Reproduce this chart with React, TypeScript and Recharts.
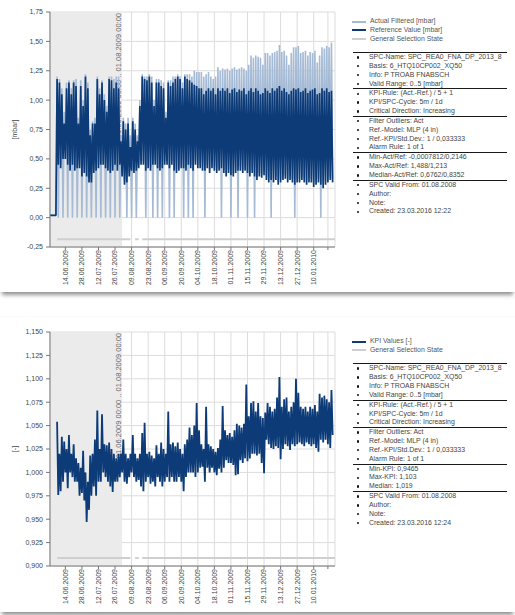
import {
  CartesianGrid,
  Legend,
  Line,
  LineChart,
  ReferenceArea,
  XAxis,
  YAxis,
} from "recharts";

const FONT = "'Liberation Sans', Arial, sans-serif";

// Each sample covers two days: the upper excursion on the first day, the lower on the second.
const START_DATE = "01.06.2009";
const END_DATE = "28.01.2010";
const SHADE_FROM = "01.06.2009";
const SHADE_TO = "01.08.2009";

const dateTicks = [
  "14.06.2009", "28.06.2009", "12.07.2009", "26.07.2009", "09.08.2009", "23.08.2009",
  "06.09.2009", "20.09.2009", "04.10.2009", "18.10.2009", "01.11.2009", "15.11.2009",
  "29.11.2009", "13.12.2009", "27.12.2009", "10.01.2010",
];
const unlabeledTick = "22.01.2010";

const mbarTicks = [-0.25, 0, 0.25, 0.5, 0.75, 1, 1.25, 1.5, 1.75];
const kpiTicks = [0.9, 0.925, 0.95, 0.975, 1, 1.025, 1.05, 1.075, 1.1, 1.125, 1.15];

const actualHi = [
  0.02, 0.02, 0.02,
  1.2, 1.18, 1.1, 0.9, 1.15, 1.17, 1.1, 1.17, 1.18, 0.85,
  1.17, 1.0, 1.22, 1.15, 0.75, 0.82, 0.85, 1.2, 1.1, 1.17,
  1.05, 0.95, 1.2, 1.2, 1.18, 1.2, 1.2, 0.7, 0.85, 0.8,
  0.85, 0.7, 0.85, 0.8, 0.7, 1.0, 1.22, 1.2, 1.2, 1.22,
  1.2, 1.0, 1.18, 1.18, 1.17, 1.15, 0.9, 1.17, 1.17, 1.2,
  1.2, 1.22, 1.2, 1.15, 1.22, 1.22, 1.22, 1.2, 1.25, 1.24,
  1.24, 1.24, 1.2, 1.22, 1.24, 1.2, 1.18, 1.2, 1.28, 1.25,
  1.27, 1.26, 1.27, 1.25, 1.27, 1.28, 1.26, 1.27, 1.28, 1.27,
  1.25, 1.3, 1.38, 1.36, 1.38, 1.37, 1.36, 1.3, 1.4, 1.4,
  1.38, 1.4, 1.41, 1.42, 1.47, 1.41, 1.42, 1.38, 1.3, 1.4,
  1.45, 1.45, 1.46, 1.4, 1.41, 1.42, 1.38, 1.41, 1.4, 1.42,
  1.32, 1.38, 1.45, 1.44, 1.46, 1.45, 1.49,
];
const actualLo = [
  0.02, 0.02, 0.02,
  0, 0.45, 0, 0.5, 0, 0.43, 0, 0.43, 0, 0.45,
  0, 0.41, 0, 0.33, 0, 0.41, 0, 0.45, 0, 0.48,
  0, 0.43, 0, 0.43, 0, 0.43, 0, 0.38, 0.31, 0,
  0.38, 0, 0.41, 0, 0.45, 0.48, 0.48, 0, 0.45, 0.43,
  0, 0.48, 0, 0.43, 0, 0.48, 0.48, 0, 0.48, 0,
  0.41, 0.43, 0.45, 0, 0.43, 0, 0.45, 0, 0.48, 0.45,
  0.45, 0.43, 0, 0.45, 0.41, 0.45, 0.43, 0.41, 0.43, 0,
  0.41, 0.38, 0.41, 0, 0.38, 0.41, 0, 0.43, 0.41, 0.43,
  0, 0.38, 0.41, 0, 0.35, 0.38, 0.37, 0.39, 0.35, 0.33,
  0, 0.33, 0.35, 0.31, 0.33, 0.35, 0.36, 0.33, 0.35, 0.33,
  0, 0.33, 0.33, 0.35, 0.33, 0.31, 0.33, 0.33, 0.29, 0.31,
  0.33, 0, 0.28, 0.31, 0.33, 0.35, 0.33,
];
const referenceHi = [
  0.02, 0.02, 0.02,
  1.18, 1.15, 1.05, 0.8, 1.1, 1.15, 1.05, 1.15, 1.12, 0.8,
  1.12, 0.95, 1.2, 1.1, 0.7, 0.8, 0.8, 1.18, 1.05, 1.15,
  1.0, 0.9, 1.18, 1.17, 1.1, 1.15, 1.1, 0.65, 0.82, 0.75,
  0.8, 0.6, 0.82, 0.75, 0.65, 0.95, 1.2, 1.18, 1.17, 1.2,
  1.15, 0.95, 1.15, 1.15, 1.12, 1.1, 0.85, 1.15, 1.12, 1.15,
  1.18, 1.2, 1.18, 1.1, 1.2, 1.18, 1.17, 1.15, 1.13, 1.12,
  1.1, 1.1, 1.05, 1.08, 1.1, 1.08, 1.1, 1.05, 1.1, 1.08,
  1.1, 1.08, 1.1, 1.06, 1.09, 1.1, 1.07, 1.09, 1.08, 1.1,
  1.05, 1.08, 1.1, 1.07, 1.1, 1.08, 1.05, 1.06, 1.1, 1.08,
  1.06, 1.1, 1.08, 1.1, 1.12, 1.08, 1.1, 1.07, 1.05, 1.08,
  1.1, 1.09, 1.1, 1.07, 1.08, 1.1, 1.06, 1.08, 1.09, 1.1,
  1.05, 1.06, 1.1, 1.08, 1.1, 1.07, 1.08,
];
const referenceLo = [
  0.02, 0.02, 0.02,
  0.45, 0.42, 0.5, 0.5, 0.45, 0.4, 0.45, 0.4, 0.42, 0.42,
  0.35, 0.38, 0.35, 0.3, 0.3, 0.38, 0.4, 0.42, 0.45, 0.45,
  0.42, 0.4, 0.38, 0.4, 0.45, 0.4, 0.45, 0.35, 0.28, 0.3,
  0.35, 0.4, 0.38, 0.4, 0.42, 0.45, 0.45, 0.4, 0.42, 0.4,
  0.45, 0.45, 0.42, 0.4, 0.42, 0.45, 0.45, 0.42, 0.45, 0.4,
  0.38, 0.4, 0.42, 0.42, 0.4, 0.45, 0.42, 0.4, 0.45, 0.42,
  0.42, 0.4, 0.4, 0.42, 0.38, 0.42, 0.4, 0.38, 0.4, 0.42,
  0.38, 0.35, 0.38, 0.36, 0.35, 0.38, 0.4, 0.4, 0.38, 0.4,
  0.38, 0.35, 0.38, 0.35, 0.32, 0.35, 0.34, 0.36, 0.32, 0.3,
  0.32, 0.3, 0.32, 0.28, 0.3, 0.32, 0.33, 0.3, 0.32, 0.3,
  0.28, 0.3, 0.3, 0.32, 0.3, 0.28, 0.3, 0.3, 0.26, 0.28,
  0.3, 0.28, 0.25, 0.28, 0.3, 0.32, 0.3,
];

const kpiHi = [
  null, null, null,
  1.054, 1.02, 1.038, 1.033, 1.025, 1.04, 1.02, 1.03, 1.015, 1.01,
  1.005, 1.023, 1.0, 0.99, 1.018, 1.02, 1.035, 1.066, 1.025, 1.062,
  1.03, 1.029, 1.032, 1.025, 1.02, 1.015, 1.02, 1.02, 1.035, 1.02,
  1.015, 1.02, 1.04, 1.02, 1.015, 1.02, 1.042, 1.053, 1.02, 1.022,
  1.018, 1.015, 1.029, 1.02, 1.032, 1.025, 1.02, 1.065, 1.03, 1.032,
  1.028, 1.032, 1.025, 1.02, 1.03, 1.035, 1.048, 1.04, 1.05, 1.074,
  1.045, 1.03, 1.025, 1.07, 1.03, 1.028, 1.025, 1.022, 1.026, 1.035,
  1.071, 1.045, 1.04, 1.042, 1.038, 1.045, 1.052, 1.05, 1.048, 1.052,
  1.094, 1.06, 1.074, 1.076, 1.065, 1.074, 1.06, 1.058, 1.064, 1.074,
  1.07, 1.065, 1.068, 1.08, 1.102, 1.07, 1.078, 1.08, 1.065, 1.07,
  1.075, 1.1, 1.085, 1.07, 1.068, 1.07, 1.065, 1.07, 1.068, 1.072,
  1.065, 1.084, 1.08, 1.082, 1.078, 1.075, 1.088,
];
const kpiLo = [
  null, null, null,
  0.976, 0.98, 0.99, 1.0, 0.983, 1.0, 0.995, 0.99, 0.99, 0.975,
  0.978, 0.97, 0.947, 0.96, 0.975, 0.985, 0.975, 0.99, 0.99, 1.0,
  0.995, 0.99, 0.985, 0.979, 0.99, 0.99, 0.995, 1.0, 0.99, 0.988,
  0.995, 1.0, 0.995, 0.99, 0.992, 0.985, 0.98, 0.99, 0.995, 0.988,
  0.99, 0.985, 0.995, 0.99, 0.985, 0.99, 0.995, 0.99, 0.995, 0.99,
  0.99, 0.995, 0.99, 0.98, 0.995, 1.0, 1.0, 1.0, 0.995, 1.0,
  1.005, 1.006, 0.99, 1.005, 1.0, 1.005, 1.0, 0.997, 1.004, 1.0,
  1.005, 1.013, 1.01, 1.01, 1.008, 0.997, 0.998, 1.013, 1.01, 1.015,
  1.012, 1.015, 1.02, 1.02, 1.018, 1.02, 1.01, 0.999, 1.035, 1.03,
  1.026, 1.025, 1.028, 1.026, 1.014, 1.025, 1.03, 1.028, 1.024, 1.03,
  1.028, 1.03, 1.032, 1.03, 1.028, 1.032, 1.03, 1.028, 1.03, 1.026,
  1.022, 1.035, 1.032, 1.035, 1.03, 1.026, 1.04,
];

// selection state bar, drawn as a flat line at a fixed level below the data
const selectionFrom = ["07.06.2009", "12.08.2009", "18.08.2009"];
const selectionTo = ["08.08.2009", "15.08.2009", "28.01.2010"];
const selectionLevelMbar = -0.185;
const selectionLevelKpi = 0.9085;

const infoCommon = [
  ["SPC-Name: SPC_REA0_FNA_DP_2013_8", "Basis: 6_HTQ10CP002_XQ50", "Info: P TROAB FNABSCH", "Valid Range: 0..5 [mbar]"],
  ["KPI-Rule: (Act.-Ref.) / 5 + 1", "KPI/SPC-Cycle: 5m / 1d", "Critical Direction: Increasing"],
  ["Filter Outliers: Act", "Ref.-Model: MLP (4 in)", "Ref.-KPI/Std.Dev.: 1 / 0,033333", "Alarm Rule: 1 of 1"],
];
const infoMbar = [
  ...infoCommon,
  ["Min-Act/Ref: -0,0007812/0,2146", "Max-Act/Ref: 1,488/1,213", "Median-Act/Ref: 0,6762/0,8352"],
  ["SPC Valid From: 01.08.2008", "Author:", "Note:", "Created: 23.03.2016 12:22"],
];
const infoKpi = [
  ...infoCommon,
  ["Min-KPI: 0,9465", "Max-KPI: 1,103", "Median: 1,019"],
  ["SPC Valid From: 01.08.2008", "Author:", "Note:", "Created: 23.03.2016 12:24"],
];

const ACTUAL_COLOR = "#a5bad5";
const REFERENCE_COLOR = "#0c3b78";
const SELECTION_COLOR = "#cfcfcf";

function dayIndex(s: string) {
  const [d, m, y] = s.split(".").map(Number);
  const [d0, m0, y0] = START_DATE.split(".").map(Number);
  return Math.round((Date.UTC(y, m - 1, d) - Date.UTC(y0, m0 - 1, d0)) / 86400000);
}

const domainX: [number, number] = [0, dayIndex(END_DATE)];
const tickDays = [...dateTicks.map(dayIndex), dayIndex(unlabeledTick)];
const tickLabelByDay = new Map(dateTicks.map((s) => [dayIndex(s), s]));

const mbarRows = actualHi.flatMap((_, i) => [
  { t: i * 2, act: actualHi[i], ref: referenceHi[i] },
  { t: i * 2 + 1, act: actualLo[i], ref: referenceLo[i] },
]);
const kpiRows = kpiHi.flatMap((v, i) => [
  { t: i * 2, kpi: v },
  { t: i * 2 + 1, kpi: kpiLo[i] },
]);

function selectionRows(level: number) {
  return selectionFrom.flatMap((from, i) => {
    const end = dayIndex(selectionTo[i]);
    const pts: Array<{ t: number; sel: number | null }> = [
      { t: dayIndex(from), sel: level },
      { t: end, sel: level },
    ];
    if (i < selectionFrom.length - 1) pts.push({ t: end + 0.5, sel: null });
    return pts;
  });
}

function DateTick({ x, y, payload }: any) {
  const label = tickLabelByDay.get(payload.value) ?? "";
  return (
    <g transform={`translate(${x},${y})`}>
      <text
        transform="rotate(-90)"
        x={2}
        y={0}
        dy="0.35em"
        textAnchor="end"
        fontSize={7}
        fontFamily={FONT}
        fill="#444"
      >
        {label}
      </text>
    </g>
  );
}

function ShadeCaption({ viewBox }: any) {
  if (!viewBox) return null;
  const x = viewBox.x + viewBox.width - 1;
  const y = viewBox.y + 1;
  return (
    <text
      transform={`translate(${x},${y}) rotate(-90)`}
      textAnchor="end"
      fontSize={7.5}
      fontFamily={FONT}
      fill="#666"
    >
      {`${SHADE_FROM} 00:00 .. ${SHADE_TO} 00:00`}
    </text>
  );
}

function InfoPanel({ payload, order, groups }: any) {
  const items = [...(payload ?? [])].sort(
    (a: any, b: any) => order.indexOf(a.dataKey) - order.indexOf(b.dataKey),
  );
  return (
    <div style={{ fontFamily: FONT, fontSize: 6.9, color: "#444", lineHeight: "8.7px", whiteSpace: "nowrap" }}>
      {items.map((entry: any) => (
        <div key={entry.dataKey} style={{ display: "flex", alignItems: "center", height: 8.7 }}>
          <span style={{ display: "inline-block", width: 14, height: 2, background: entry.color, marginRight: 4 }} />
          <span style={{ color: "#555" }}>{entry.value}</span>
        </div>
      ))}
      <div style={{ marginTop: 8.6, marginLeft: 1, width: 154 }}>
        {groups.map((rows: string[], gi: number) => (
          <div key={gi} style={{ borderTop: "1.5px solid #1a1a1a" }}>
            {rows.map((row) => (
              <div key={row} style={{ display: "flex", alignItems: "center", height: 8.85 }}>
                <span
                  style={{
                    display: "inline-block",
                    width: 2.4,
                    height: 2.4,
                    borderRadius: "50%",
                    background: "#111",
                    marginLeft: 4,
                    marginRight: 9.6,
                  }}
                />
                <span>{row}</span>
              </div>
            ))}
          </div>
        ))}
      </div>
    </div>
  );
}

function PanelChart({ height, rows, series, selLevel, yTicks, yDigits, yLabel, groups }: any) {
  const order = [...series.map((s: any) => s.key), "sel"];
  return (
    <LineChart width={515} height={height} data={rows} margin={{ top: 12, right: 180, left: 0, bottom: 0 }}>
      <ReferenceArea
        x1={dayIndex(SHADE_FROM)}
        x2={dayIndex(SHADE_TO)}
        fill="#ebebeb"
        fillOpacity={1}
        stroke="none"
        label={(p: any) => <ShadeCaption {...p} />}
      />
      <CartesianGrid stroke="#dcdcdc" strokeWidth={1} />
      <XAxis
        type="number"
        dataKey="t"
        domain={domainX}
        allowDataOverflow
        ticks={tickDays}
        interval={0}
        tick={<DateTick />}
        tickSize={3}
        tickMargin={2}
        height={45}
        axisLine={{ stroke: "#777" }}
        tickLine={{ stroke: "#777" }}
      />
      <YAxis
        type="number"
        domain={[yTicks[0], yTicks[yTicks.length - 1]]}
        allowDataOverflow
        ticks={yTicks}
        interval={0}
        width={50}
        tickSize={4}
        tickMargin={3}
        tickFormatter={(v: number) => v.toFixed(yDigits).replace(".", ",")}
        tick={{ fontSize: 7, fill: "#444", fontFamily: FONT }}
        axisLine={{ stroke: "#777" }}
        tickLine={{ stroke: "#777" }}
        label={{
          value: yLabel,
          angle: -90,
          position: "insideLeft",
          offset: 15,
          style: { fontSize: 7, fill: "#444", fontFamily: FONT, textAnchor: "middle" },
        }}
      />
      {series.map((s: any) => (
        <Line
          key={s.key}
          dataKey={s.key}
          name={s.name}
          stroke={s.color}
          strokeWidth={s.width}
          strokeLinejoin="bevel"
          dot={false}
          activeDot={false}
          type="linear"
          isAnimationActive={false}
        />
      ))}
      <Line
        data={selectionRows(selLevel)}
        dataKey="sel"
        name="General Selection State"
        stroke={SELECTION_COLOR}
        strokeWidth={2}
        dot={false}
        activeDot={false}
        type="linear"
        isAnimationActive={false}
      />
      <ReferenceArea fill="none" stroke="#8a8a8a" strokeWidth={1} ifOverflow="visible" />
      <Legend
        layout="horizontal"
        verticalAlign="middle"
        align="center"
        wrapperStyle={{ left: 352, top: 17.3, width: 160, height: "auto" }}
        content={(p: any) => <InfoPanel payload={p.payload} order={order} groups={groups} />}
      />
    </LineChart>
  );
}

function Card({ top, height, children }: any) {
  return (
    <div
      style={{
        position: "absolute",
        left: 0,
        top,
        width: 515,
        height,
        background: "#fff",
        boxShadow: "0 5px 4px -2px rgba(0,0,0,0.42), 0 0 1px rgba(0,0,0,0.12)",
      }}
    >
      {children}
    </div>
  );
}

export default function App() {
  return (
    <div style={{ position: "absolute", left: 0, top: 0, width: 515, height: 615, background: "#fff" }}>
      <Card top={0} height={292}>
        <PanelChart
          height={292}
          rows={mbarRows}
          series={[
            { key: "act", name: "Actual Filtered [mbar]", color: ACTUAL_COLOR, width: 1.6 },
            { key: "ref", name: "Reference Value [mbar]", color: REFERENCE_COLOR, width: 1.7 },
          ]}
          selLevel={selectionLevelMbar}
          yTicks={mbarTicks}
          yDigits={2}
          yLabel="[mbar]"
          groups={infoMbar}
        />
      </Card>
      <Card top={317} height={295}>
        <div style={{ position: "absolute", left: 0, top: 3 }}>
          <PanelChart
            height={291}
            rows={kpiRows}
            series={[{ key: "kpi", name: "KPI Values [-]", color: REFERENCE_COLOR, width: 1.8 }]}
            selLevel={selectionLevelKpi}
            yTicks={kpiTicks}
            yDigits={3}
            yLabel="[-]"
            groups={infoKpi}
          />
        </div>
      </Card>
    </div>
  );
}
